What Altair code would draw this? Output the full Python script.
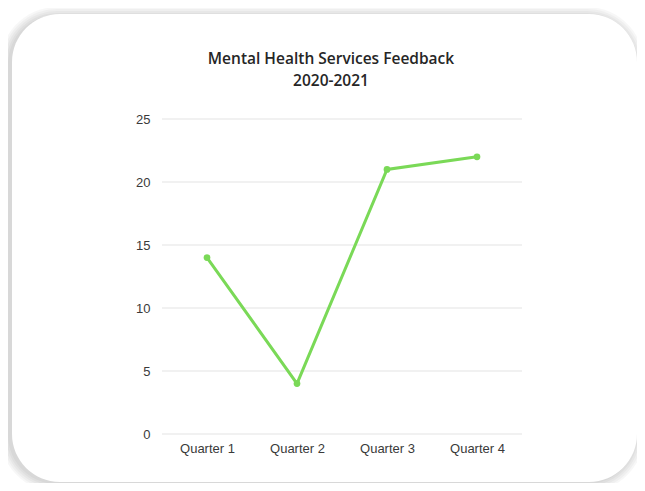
import altair as alt
import pandas as pd

quarters = ["Quarter 1", "Quarter 2", "Quarter 3", "Quarter 4"]
feedback = [14, 4, 21, 22]
y_ticks = [0, 5, 10, 15, 20, 25]

df = pd.DataFrame({"quarter": quarters, "value": feedback})
grid_df = pd.DataFrame({"tick": y_ticks})

W, H = 360, 315

x_scale = alt.Scale(domain=quarters, type="point", padding=0.5)
y_scale = alt.Scale(domain=[0, 25])

y_axis = alt.Axis(title=None, values=y_ticks, ticks=False, domain=False,
                  grid=False, labelPadding=12, labelFontSize=13, zindex=1,
                  labelFont="Liberation Sans", labelColor="#3a3a3a")

# card decoration (background panel with soft shadow)
card_box = dict(x0=-150, y0=-105, x1=475, y1=363)
shadow_layers = []
for grow in [9, 7, 5, 3, 1]:
    shadow_layers.append(
        alt.Chart(df).mark_rect(cornerRadius=48 + grow, color="black", opacity=0.03)
        .encode(
            x=alt.value(card_box["x0"] - grow - 3),
            x2=alt.value(card_box["x1"] + grow - 2),
            y=alt.value(card_box["y0"] - grow + 2),
            y2=alt.value(card_box["y1"] + grow + 1),
        )
        .transform_filter(alt.datum.quarter == quarters[0])
    )

card = (
    alt.Chart(df).mark_rect(cornerRadius=48, color="white")
    .encode(
        x=alt.value(card_box["x0"]),
        x2=alt.value(card_box["x1"]),
        y=alt.value(card_box["y0"]),
        y2=alt.value(card_box["y1"]),
    )
    .transform_filter(alt.datum.quarter == quarters[0])
)

grid = (
    alt.Chart(grid_df).mark_rule(color="#e3e3e3", strokeWidth=1)
    .encode(y=alt.Y("tick:Q", scale=y_scale, axis=y_axis))
)

line = (
    alt.Chart(df)
    .mark_line(color="#7ad957", strokeWidth=3,
               point=alt.OverlayMarkDef(filled=True, size=45, color="#7ad957", opacity=1))
    .encode(
        x=alt.X("quarter:N", scale=x_scale, sort=quarters,
                axis=alt.Axis(title=None, labelAngle=0, ticks=False, domain=False,
                              grid=False, labelPadding=8, labelFontSize=13, zindex=1,
                              labelFont="Liberation Sans", labelColor="#3a3a3a")),
        y=alt.Y("value:Q", scale=y_scale, axis=y_axis),
    )
)

chart = (
    alt.layer(*shadow_layers, card, grid, line)
    .properties(
        width=W,
        height=H,
        title=alt.Title(
            ["Mental Health Services Feedback", "2020-2021"],
            font="Open Sans", fontSize=15.5, fontWeight=600, color="#262626",
            lineHeight=22, anchor="middle", dx=-11, offset=-82, zindex=1,
        ),
        autosize=alt.AutoSizeParams(type="none"),
        padding={"left": 154, "top": 111, "right": 115, "bottom": 49},
    )
    .configure_view(stroke=None)
    .configure(background="white")
)

chart.save("out.html", embed_options={"renderer": "svg", "actions": False})
